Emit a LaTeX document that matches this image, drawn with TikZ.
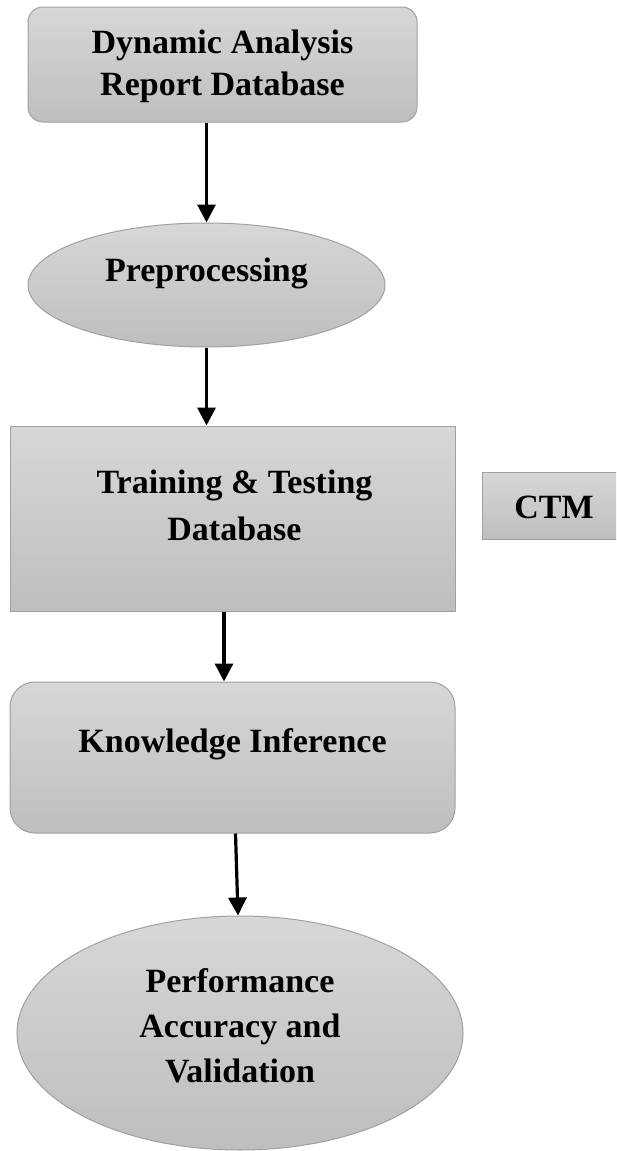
\documentclass[tikz,border=0pt]{standalone}
\usepackage{fontspec}
\setmainfont{Liberation Serif}
\usetikzlibrary{shapes.geometric,arrows.meta,calc}
\definecolor{topg}{RGB}{215,215,215}
\definecolor{botg}{RGB}{190,190,190}
\definecolor{edgeg}{RGB}{160,160,160}
\tikzset{
  shapebase/.style={draw=edgeg, line width=1pt, top color=topg, bottom color=botg, inner sep=0pt},
  rbox/.style={shapebase, rectangle},
  ell/.style={shapebase, ellipse},
  lbl/.style={font=\fontsize{34}{#1}\selectfont\bfseries, align=center, inner sep=0pt},
  lbl/.default=45,
  arr/.style={line width=3.2pt, -{Triangle[length=18pt,width=18pt]}},
}
\begin{document}
\begin{tikzpicture}[x=1pt,y=-1pt]
\useasboundingbox (0,0) rectangle (616,1151);
\clip (0,0) rectangle (616,1151);
\node[rbox, rounded corners=15pt, minimum width=389pt, minimum height=115pt,
  label={[lbl=42, yshift=-2pt]center:{Dynamic Analysis\\Report Database}}] (top) at (222.5,64.5) {};
\node[ell, minimum width=357pt, minimum height=124pt,
  label={[lbl, yshift=12pt]center:{Preprocessing}}] (pre) at (206.5,285) {};
\node[rbox, minimum width=445pt, minimum height=185pt,
  label={[lbl=47, yshift=13pt, xshift=2pt]center:{Training \& Testing\\Database}}] (train) at (232.5,518.5) {};
\node[rbox, minimum width=148pt, minimum height=67pt,
  label={[lbl, yshift=-2pt, xshift=-2pt]center:{CTM}}] (ctm) at (556,505.5) {};
\node[rbox, rounded corners=25pt, minimum width=445pt, minimum height=151pt,
  label={[lbl, yshift=13pt]center:{Knowledge Inference}}] (know) at (232.5,757.5) {};
\node[ell, minimum width=446pt, minimum height=234pt,
  label={[lbl, yshift=7pt]center:{Performance\\Accuracy and\\Validation}}] (perf) at (240,1033) {};
\draw[arr] (pre.north |- top.south) -- (pre.north);
\draw[arr] (pre.south) -- (pre.south |- train.north);
\draw[arr] ($(train.south)+(-8.5,0)$) -- ($(know.north)+(-8.5,0)$);
\draw[arr] ($(know.south)+(3,0)$) -- ($(perf.north)+(-2,0)$);
\end{tikzpicture}
\end{document}
